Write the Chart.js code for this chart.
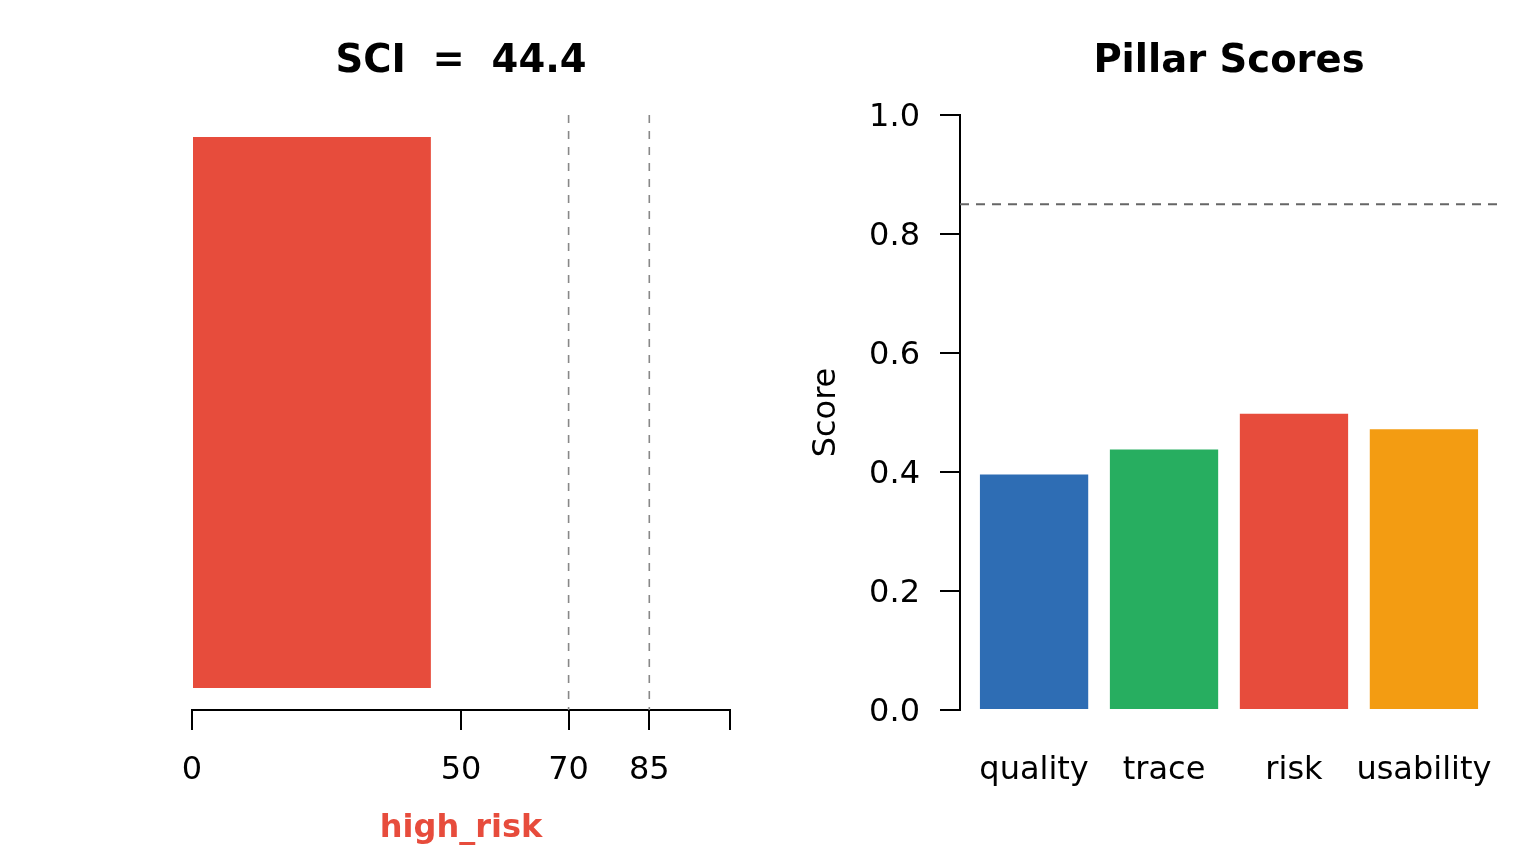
<!DOCTYPE html>
<html>
<head>
<meta charset="utf-8">
<title>SCI and Pillar Scores</title>
<script src="https://cdn.jsdelivr.net/npm/chart.js"></script>
<style>
  html, body { margin: 0; padding: 0; background: #fff; }
  #wrap { position: relative; width: 1536px; height: 864px; }
  canvas { position: absolute; top: 0; }
  #sci { left: 0; }
  #pillars { left: 768px; }
</style>
</head>
<body>
<div id="wrap">
  <canvas id="sci" width="768" height="864"></canvas>
  <canvas id="pillars" width="768" height="864"></canvas>
</div>
<script>
// --- data ---
const sciValue = 44.4;
const sciBand = 'high_risk';
const sciTicks = [0, 50, 70, 85, 100];
const sciTickLabels = ['0', '50', '70', '85', ''];
const sciThresholds = [70, 85];

const pillarNames = ['quality', 'trace', 'risk', 'usability'];
const pillarScores = [0.396, 0.438, 0.498, 0.472];
const pillarColors = ['#2E6DB4', '#27AE60', '#E74C3C', '#F39C12'];
const pillarTicks = [0, 0.2, 0.4, 0.6, 0.8, 1.0];
const pillarTarget = 0.85;

const FONT = '"DejaVu Sans", "Liberation Sans", sans-serif';
const RED = '#E74C3C';

// bars sit like barplot(): width 1, space 0.2
const pillarCenter = i => 0.7 + 1.2 * i;

// keep the plot box fixed, whatever the labels measure
const fixBox = (w, h) => axis => {
  if (w) axis.width = w;
  if (h) axis.height = h;
  axis.paddingLeft = axis.paddingRight = 0;
  axis.paddingTop = axis.paddingBottom = 0;
};

// title centred over the plot area, like R's main=
const panelTitle = {
  id: 'panelTitle',
  afterDraw(chart, args, opts) {
    const { ctx, chartArea } = chart;
    ctx.save();
    ctx.font = 'bold 38.5px ' + FONT;
    ctx.fillStyle = '#000';
    ctx.textAlign = 'center';
    ctx.textBaseline = 'middle';
    ctx.fillText(opts.text, (chartArea.left + chartArea.right) / 2, opts.y);
    ctx.restore();
  }
};

// dashed abline()s
const refLines = {
  id: 'refLines',
  afterDatasetsDraw(chart, args, opts) {
    const { ctx, chartArea: a } = chart;
    const scale = chart.scales[opts.axis];
    ctx.save();
    ctx.strokeStyle = opts.color;
    ctx.lineWidth = opts.width;
    ctx.setLineDash(opts.dash);
    opts.values.forEach(v => {
      const p = scale.getPixelForValue(v);
      ctx.beginPath();
      if (opts.axis === 'x') { ctx.moveTo(p, a.top); ctx.lineTo(p, a.bottom); }
      else { ctx.moveTo(a.left, p); ctx.lineTo(a.right, p); }
      ctx.stroke();
    });
    ctx.restore();
  }
};

const tickFont = { family: FONT, size: 32 };

new Chart(document.getElementById('sci').getContext('2d'), {
  type: 'bar',
  data: {
    labels: ['SCI'],
    datasets: [{
      data: [sciValue],
      backgroundColor: RED,
      borderWidth: 0,
      barPercentage: 0.926,
      categoryPercentage: 1
    }]
  },
  options: {
    indexAxis: 'y',
    responsive: false,
    animation: false,
    layout: { padding: { left: 192, right: 38, top: 115, bottom: 0 } },
    scales: {
      x: {
        type: 'linear',
        min: 0,
        max: 100,
        afterBuildTicks: axis => { axis.ticks = sciTicks.map(v => ({ value: v })); },
        afterFit: fixBox(0, 154),
        grid: { display: true, drawOnChartArea: false, drawTicks: true, tickLength: 20, color: '#000', lineWidth: 2 },
        border: { display: true, color: '#000', width: 2 },
        ticks: {
          autoSkip: false, maxRotation: 0, color: '#000', font: tickFont, padding: 21.5,
          callback: (v, i) => sciTickLabels[i]
        },
        title: {
          display: true, text: sciBand, color: RED,
          font: { family: FONT, size: 32, weight: 'bold' },
          padding: { top: 0, bottom: 16 }
        }
      },
      y: { display: false }
    },
    plugins: {
      legend: { display: false },
      tooltip: { enabled: false },
      panelTitle: { text: 'SCI  =  ' + sciValue, y: 62 },
      refLines: { axis: 'x', values: sciThresholds, color: '#888', width: 1.6, dash: [8, 8] }
    }
  },
  plugins: [panelTitle, refLines]
});

new Chart(document.getElementById('pillars').getContext('2d'), {
  type: 'bar',
  data: {
    datasets: [{
      data: pillarScores.map((s, i) => ({ x: pillarCenter(i), y: s })),
      backgroundColor: pillarColors,
      borderWidth: 0,
      barPercentage: 1 / 1.2,
      categoryPercentage: 1
    }]
  },
  options: {
    responsive: false,
    animation: false,
    layout: { padding: { left: 0, right: 38, top: 115, bottom: 0 } },
    scales: {
      x: {
        type: 'linear',
        offset: false,
        min: 0.016,
        max: 4.984,
        afterBuildTicks: axis => { axis.ticks = pillarNames.map((n, i) => ({ value: pillarCenter(i) })); },
        afterFit: fixBox(0, 154),
        grid: { display: false, drawTicks: false },
        border: { display: false },
        ticks: {
          autoSkip: false, maxRotation: 0, color: '#000', font: tickFont, padding: 41.5,
          callback: (v, i) => pillarNames[i]
        }
      },
      y: {
        type: 'linear',
        min: 0,
        max: 1,
        afterBuildTicks: axis => { axis.ticks = pillarTicks.map(v => ({ value: v })); },
        afterFit: fixBox(192, 0),
        grid: { display: true, drawOnChartArea: false, drawTicks: true, tickLength: 20, color: '#000', lineWidth: 2 },
        border: { display: true, color: '#000', width: 2 },
        ticks: {
          autoSkip: false, color: '#000', font: tickFont, padding: 20, labelOffset: 2.5,
          callback: v => v.toFixed(1)
        },
        title: {
          display: true, text: 'Score', color: '#000',
          font: { family: FONT, size: 32 },
          padding: { top: 39, bottom: 0 }
        }
      }
    },
    plugins: {
      legend: { display: false },
      tooltip: { enabled: false },
      panelTitle: { text: 'Pillar Scores', y: 62 },
      refLines: { axis: 'y', values: [pillarTarget], color: '#666', width: 2, dash: [9, 7] }
    }
  },
  plugins: [panelTitle, refLines]
});
</script>
</body>
</html>
